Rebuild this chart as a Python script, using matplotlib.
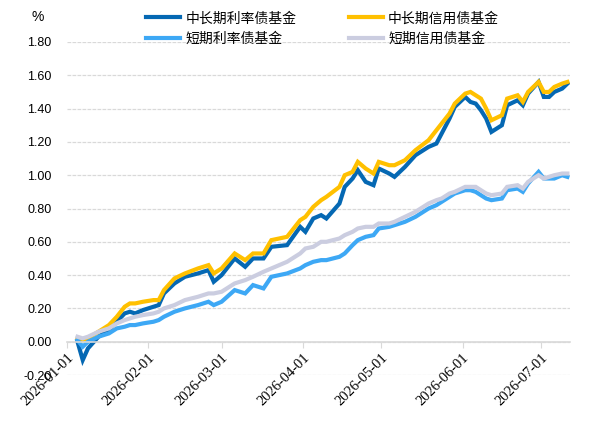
import pandas as pd
import matplotlib.pyplot as plt
import matplotlib.dates as mdates

# dates (2026)
dates = ['01-05', '01-07', '01-09', '01-13', '01-17', '01-20', '01-23', '01-25', '01-27', '01-30',
         '02-03', '02-05', '02-07', '02-11', '02-15', '02-20', '02-24', '02-26', '03-01', '03-06',
         '03-10', '03-13', '03-17', '03-20', '03-26', '03-31', '04-02', '04-05', '04-08', '04-10',
         '04-15', '04-17', '04-20', '04-22', '04-25', '04-28', '04-30', '05-04', '05-06', '05-10',
         '05-14', '05-19', '05-22', '05-24', '05-27', '05-29', '06-02', '06-04', '06-06', '06-08',
         '06-10', '06-12', '06-16', '06-18', '06-22', '06-24', '06-26', '06-30', '07-02', '07-04',
         '07-06', '07-09', '07-11']

long_rate = [0.00, -0.11, -0.04, 0.03, 0.07, 0.12, 0.17, 0.18, 0.17, 0.19,
             0.21, 0.22, 0.29, 0.35, 0.39, 0.41, 0.43, 0.36, 0.40, 0.50,
             0.45, 0.50, 0.50, 0.57, 0.58, 0.69, 0.66, 0.74, 0.76, 0.74,
             0.83, 0.93, 0.98, 1.03, 0.96, 0.94, 1.04, 1.01, 0.99, 1.05,
             1.12, 1.17, 1.19, 1.25, 1.34, 1.41, 1.47, 1.44, 1.43, 1.39,
             1.34, 1.26, 1.30, 1.42, 1.45, 1.42, 1.49, 1.56, 1.47, 1.47,
             1.50, 1.52, 1.55]

long_credit = [0.02, 0.01, 0.02, 0.06, 0.10, 0.15, 0.21, 0.23, 0.23, 0.24,
               0.25, 0.25, 0.31, 0.38, 0.41, 0.44, 0.46, 0.41, 0.44, 0.53,
               0.49, 0.53, 0.53, 0.61, 0.63, 0.73, 0.75, 0.81, 0.85, 0.87,
               0.93, 1.00, 1.02, 1.08, 1.04, 1.01, 1.08, 1.06, 1.06, 1.09,
               1.15, 1.21, 1.27, 1.31, 1.37, 1.43, 1.49, 1.50, 1.48, 1.46,
               1.40, 1.33, 1.36, 1.46, 1.48, 1.44, 1.50, 1.56, 1.50, 1.50,
               1.53, 1.55, 1.56]

short_rate = [0.01, -0.03, 0.00, 0.03, 0.05, 0.08, 0.09, 0.10, 0.10, 0.11,
              0.12, 0.13, 0.15, 0.18, 0.20, 0.22, 0.24, 0.22, 0.24, 0.31,
              0.29, 0.34, 0.32, 0.39, 0.41, 0.44, 0.46, 0.48, 0.49, 0.49,
              0.51, 0.53, 0.58, 0.61, 0.63, 0.64, 0.68, 0.69, 0.70, 0.72,
              0.75, 0.80, 0.82, 0.84, 0.87, 0.89, 0.91, 0.91, 0.90, 0.88,
              0.86, 0.85, 0.86, 0.91, 0.92, 0.90, 0.95, 1.02, 0.98, 0.98,
              0.98, 1.00, 0.99]

short_credit = [0.03, 0.02, 0.03, 0.06, 0.08, 0.11, 0.13, 0.14, 0.15, 0.16,
                0.17, 0.18, 0.20, 0.22, 0.25, 0.27, 0.29, 0.29, 0.30, 0.35,
                0.37, 0.39, 0.42, 0.44, 0.48, 0.53, 0.56, 0.57, 0.60, 0.60,
                0.62, 0.64, 0.66, 0.68, 0.69, 0.69, 0.71, 0.71, 0.72, 0.75,
                0.78, 0.83, 0.85, 0.86, 0.89, 0.90, 0.93, 0.93, 0.93, 0.91,
                0.89, 0.88, 0.89, 0.93, 0.94, 0.92, 0.96, 1.00, 0.98, 0.99,
                1.00, 1.01, 1.01]

names = ['中长期利率债基金', '中长期信用债基金', '短期利率债基金', '短期信用债基金']
colors = ['#0568B3', '#FFC000', '#3DA8F5', '#CBCDE0']
yticks = [-0.2, 0.0, 0.2, 0.4, 0.6, 0.8, 1.0, 1.2, 1.4, 1.6, 1.8]

x = pd.to_datetime(['2026-' + d for d in dates])

fig = plt.figure(figsize=(5.9, 4.25), dpi=100)
ax = fig.add_axes([0.1136, 0.1176, 0.8525, 0.7836])

lines = []
for vals, name, c in zip([long_rate, long_credit, short_rate, short_credit], names, colors):
    ln, = ax.plot(x, vals, color=c, lw=3, label=name, solid_joinstyle='miter')
    lines.append(ln)

# spine at y=0 first: set_position resets the tick objects
for s in ['top', 'right', 'left']:
    ax.spines[s].set_visible(False)
ax.spines['bottom'].set_position(('data', 0))
ax.spines['bottom'].set_color('#D9D9D9')
ax.spines['bottom'].set_linewidth(1.2)

ax.set_ylim(-0.2, 1.8)
ax.set_yticks(yticks)
ax.set_yticklabels([f'{v:.2f}' for v in yticks], fontfamily='Liberation Sans', fontsize=9)
ax.set_xlim(pd.Timestamp('2026-01-01'), pd.Timestamp('2026-07-12'))
ax.xaxis.set_major_locator(mdates.MonthLocator())
ax.xaxis.set_major_formatter(mdates.DateFormatter('%Y-%m-%d'))
ax.tick_params(axis='x', length=4, color='#D9D9D9', pad=3, labelrotation=45,
               labelfontfamily='Liberation Serif', labelsize=10.5)
ax.tick_params(axis='y', length=0, pad=11)
for lab in ax.get_xticklabels():
    lab.set_ha('right')
    lab.set_va('top')
    lab.set_rotation_mode('anchor')

ax.grid(axis='y', color='#D9D9D9', lw=0.9, ls=(0, (3, 1)))
ax.set_axisbelow(True)

fig.text(0.064, 0.96, '%', fontsize=10, fontfamily='Liberation Sans', ha='center', va='center')

leg = fig.legend(handles=[lines[0], lines[2], lines[1], lines[3]], ncol=2,
                 loc='center', bbox_to_anchor=(0.547, 0.933), frameon=False,
                 prop={'family': 'Noto Sans CJK SC', 'size': 10},
                 handlelength=2.45, handletextpad=0.35, columnspacing=3.8,
                 labelspacing=0.45)

fig.savefig('out.png', dpi=100)
